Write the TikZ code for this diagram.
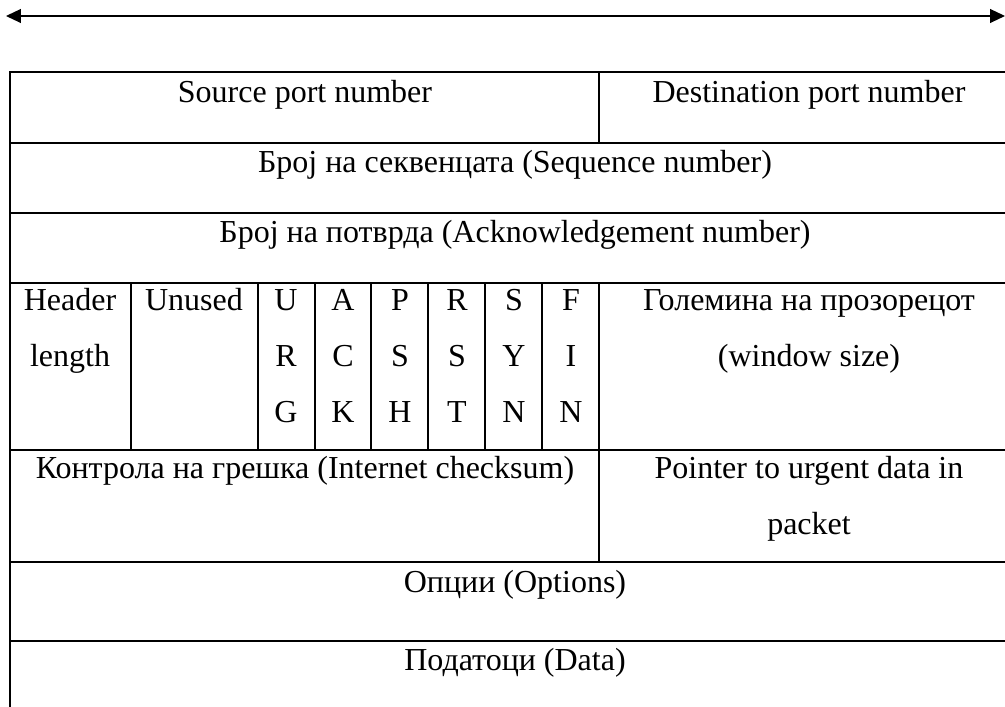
\documentclass[tikz,border=0pt]{standalone}
\usepackage{fontspec}
\setmainfont{Liberation Serif}
\usetikzlibrary{arrows.meta}

\begin{document}
\begin{tikzpicture}[x=0.375pt,y=-0.375pt,
  cell/.style={anchor=base,inner sep=0pt,font=\fontsize{12}{14}\selectfont},
  rule/.style={line width=0.8pt,line cap=rect}]
\useasboundingbox (0,0) rectangle (1005,707);
% 32-bit width arrow
\coordinate (wleft) at (6,16);
\coordinate (wright) at (1005,16);
\draw[{Triangle[length=5.6pt,width=5.2pt]}-{Triangle[length=5.6pt,width=5.2pt]}, line width=0.5pt] (wleft) -- (wright);
% Horizontal rules of the header
\foreach \y in {72,143,213,283,450,562,641}
  \draw[rule] (10,\y) -- (1005,\y);
% Left edge, open at the bottom
\draw[rule] (10,72) -- (10,707);
% Column rules
\draw[rule] (599,72) -- (599,143);
\foreach \x in {131,258,315,371,428,485,542,599}
  \draw[rule] (\x,283) -- (\x,450);
\draw[rule] (599,450) -- (599,562);
% Ports
\node[cell] (srcport) at (305,103) {Source port number};
\node[cell] (dstport) at (809,103) {Destination port number};
% Sequence and acknowledgement
\node[cell] (seqnum) at (515,173) {Број на секвенцата (Sequence number)};
\node[cell] (acknum) at (515,243) {Број на потврда (Acknowledgement number)};
% Header length, unused bits, flags, window
\node[cell] (hlen1) at (70,311) {Header};
\node[cell] (hlen2) at (70,367) {length};
\node[cell] (unused) at (194,311) {Unused};
\foreach \x/\a/\b/\c [count=\i] in {286/U/R/G,343/A/C/K,400/P/S/H,457/R/S/T,514/S/Y/N,571/F/I/N} {
  \node[cell] (flag\i a) at (\x,311) {\a};
  \node[cell] (flag\i b) at (\x,367) {\b};
  \node[cell] (flag\i c) at (\x,423) {\c};
}
\node[cell] (win1) at (809,311) {Големина на прозорецот};
\node[cell] (win2) at (809,367) {(window size)};
% Checksum and urgent pointer
\node[cell] (chksum) at (305,479) {Контрола на грешка (Internet checksum)};
\node[cell] (urg1) at (809,479) {Pointer to urgent data in};
\node[cell] (urg2) at (809,535) {packet};
% Options and data
\node[cell] (opts) at (515,593) {Опции (Options)};
\node[cell] (data) at (515,671) {Податоци (Data)};
\end{tikzpicture}
\end{document}
